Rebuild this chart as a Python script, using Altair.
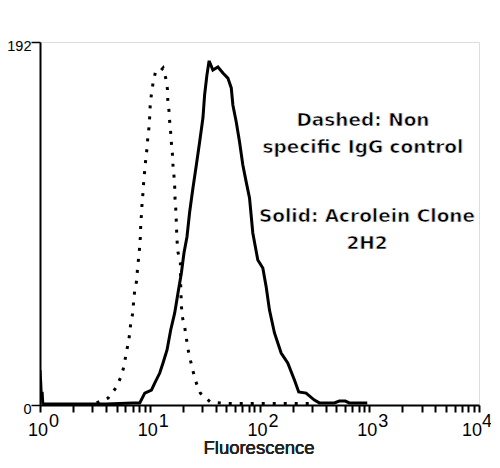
import altair as alt
import pandas as pd

# Dotted series: non specific IgG control
dotted_fluor = [3.28, 4.18, 4.98, 5.45, 5.84, 6.05, 6.35, 6.58, 6.72, 7.05, 7.12, 7.31,
                7.65, 7.73, 7.94, 8.11, 8.23, 8.28, 8.41, 8.51, 8.69, 8.82, 9.01, 9.20,
                9.45, 9.59, 9.85, 10.0, 10.1, 10.36, 10.72, 11.27, 12.0, 13.21,
                13.98, 14.49, 14.6, 14.98, 15.2, 15.52, 15.75, 16.08, 16.28, 16.63,
                16.88, 16.98, 17.24, 17.42, 17.56, 17.71, 18.08, 19.02, 19.14, 19.42,
                19.83, 20.81, 21.56, 22.29, 23.44, 24.75, 26.58, 28.9, 35.6, 50, 100,
                200, 285]
dotted_count = [1.1, 3.7, 9.5, 14.8, 20.6, 26.4, 32.3, 38.1, 43.9, 49.2, 55.0, 60.8,
                66.6, 72.5, 78.3, 84.1, 89.9, 95.7, 101.0, 106.8, 112.7, 118.5, 124.3, 130.1,
                135.9, 141.2, 147.0, 152.9, 158.7, 164.5, 170.3, 176.1, 175.6, 178.2,
                172.9, 167.1, 161.3, 155.5, 149.7, 143.9, 138.6, 132.8, 126.9, 121.1,
                115.3, 109.5, 104.2, 98.4, 92.6, 87.3, 80.9, 75.1, 63.5, 52.4,
                46.5, 41.3, 35.4, 29.6, 23.8, 18.0, 11.6, 6.3, 1.6, 0.8, 0.8,
                0.8, 0.8]

# Solid series: Acrolein clone 2H2
solid_fluor = [1.0, 1.015, 1.03, 1.045, 1.06, 1.08, 2, 4, 7.01, 8.11, 9.01, 10.36, 11.1,
               12.33, 13.21, 14.37, 15.52, 16.88, 18.08, 19.42, 20.5, 21.83, 23.1, 24.75,
               26.58, 28.48, 30.51, 31.62, 33.18, 34.6, 35.1, 37.6, 41.8, 46.4, 51.5,
               55.3, 57.2, 61.4, 65.8, 70.5, 75.7, 81.1, 86.9, 96.5, 107.2, 115.1, 123.3,
               136.9, 157.5, 180.8, 208.1, 227.7, 265.8, 316.2, 351.3, 480.7, 533.6, 605,
               658, 959]
solid_count = [18.5, 12, 3, 7, 1, 0.5, 0.5, 0.5, 1.1, 1.1, 6.3, 7.9, 11.6,
               16.9, 22.2, 29.1, 39.7, 48.7, 59.2, 69.8, 80.4, 88.9, 102.1, 114.8,
               126.9, 139.1, 151.8, 164.0, 174.5, 181.4, 181.4, 177.2, 178.8, 175.6, 172.9,
               167.7, 158.7, 149.7, 139.1, 126.9, 117.9, 109.5, 91.0, 76.7, 72.5, 62.4, 50.2,
               38.1, 27.5, 22.2, 13.2, 6.9, 6.3, 2.6, 1.1, 1.1, 2.1, 2.1,
               1.1, 1.1]

decades = [1, 10, 100, 1000]
decade_base = ["10", "10", "10", "10"]
decade_exp = ["0", "1", "2", "3"]
last_decade = [10000]
last_base = ["10"]
last_exp = ["4"]
minor_ticks = [m * d for d in [1, 10, 100, 1000] for m in range(1, 10)] + [10000]
y_ticks = [0, 192]

dotted_df = pd.DataFrame({"fluor": dotted_fluor, "count": dotted_count})
solid_df = pd.DataFrame({"fluor": solid_fluor, "count": solid_count})
dec_df = pd.DataFrame({"fluor": decades, "base": decade_base, "exp": decade_exp})
last_df = pd.DataFrame({"fluor": last_decade, "base": last_base, "exp": last_exp})

xscale = alt.Scale(type="log", domain=[1, 10000])
yscale = alt.Scale(domain=[0, 192])

xaxis = alt.Axis(values=minor_ticks, labels=False, tickSize=7, tickWidth=2,
                 tickColor="black", domainColor="black", domainWidth=2,
                 grid=False, title=None)
yaxis = alt.Axis(values=y_ticks, tickSize=9, tickWidth=1.5, tickColor="black",
                 domainColor="black", domainWidth=2, grid=False, title=None,
                 labelFont="Liberation Sans", labelFontSize=14.5, labelColor="black",
                 labelPadding=0, labelOffset=4, labelFlush=False)

solid = alt.Chart(solid_df).mark_line(color="black", strokeWidth=3, clip=True).encode(
    x=alt.X("fluor:Q", scale=xscale, axis=xaxis),
    y=alt.Y("count:Q", scale=yscale, axis=yaxis),
)
dotted = alt.Chart(dotted_df).mark_line(color="black", strokeWidth=3,
                                        strokeDash=[3, 8], clip=True).encode(
    x=alt.X("fluor:Q", scale=xscale),
    y=alt.Y("count:Q", scale=yscale),
)

lbl_style = dict(font="Liberation Sans", fontSize=18, color="black", baseline="alphabetic")
base_lbl = alt.Chart(dec_df).mark_text(align="center", dx=-2, **lbl_style).encode(
    x=alt.X("fluor:Q", scale=xscale), y=alt.value(394), text="base:N")
exp_lbl = alt.Chart(dec_df).mark_text(align="left", dx=9, **lbl_style).encode(
    x=alt.X("fluor:Q", scale=xscale), y=alt.value(385), text="exp:N")
last_base_lbl = alt.Chart(last_df).mark_text(align="center", dx=-7, **lbl_style).encode(
    x=alt.X("fluor:Q", scale=xscale), y=alt.value(394), text="base:N")
last_exp_lbl = alt.Chart(last_df).mark_text(align="left", dx=3, **lbl_style).encode(
    x=alt.X("fluor:Q", scale=xscale), y=alt.value(385), text="exp:N")

xtitle = alt.Chart(dec_df).mark_text(font="Liberation Sans", fontSize=18.5, color="#222222",
                                     align="center", baseline="alphabetic").encode(
    x=alt.value(219), y=alt.value(412), text=alt.value("Fluorescence"))

note_style = dict(font="DejaVu Sans", fontSize=18.5, fontWeight="bold", color="black",
                  align="center", baseline="alphabetic", lineHeight=27,
                  stroke="white", strokeWidth=0.7)
note1 = alt.Chart(dec_df).mark_text(**note_style).encode(
    x=alt.value(323), y=alt.value(84),
    text=alt.value(["Dashed: Non", "specific IgG control"]))
note2 = alt.Chart(dec_df).mark_text(**note_style).encode(
    x=alt.value(327), y=alt.value(180),
    text=alt.value(["Solid: Acrolein Clone", "2H2"]))

chart = alt.layer(solid, dotted, base_lbl, exp_lbl, last_base_lbl, last_exp_lbl,
                  xtitle, note1, note2).properties(
    width=439, height=363, autosize="none",
    padding={"left": 32, "top": 34, "right": 12, "bottom": 53},
).configure_view(stroke="black", strokeWidth=2).configure(background="white")

chart.save("out.html", embed_options={"renderer": "svg", "actions": False})
